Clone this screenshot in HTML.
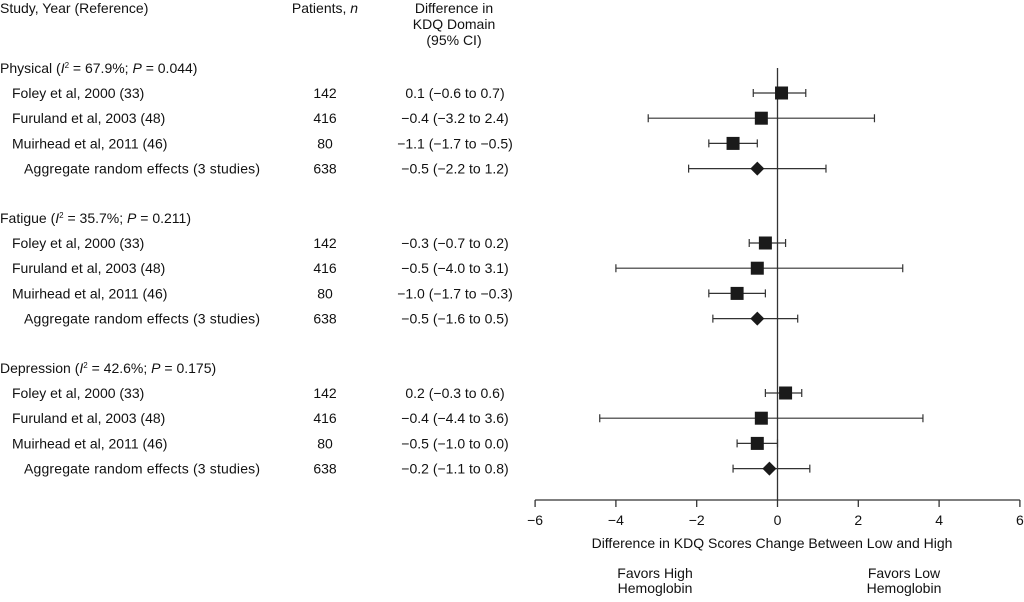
<!DOCTYPE html>
<html><head><meta charset="utf-8"><style>
body{margin:0;background:#fff;width:1024px;height:597px;overflow:hidden}
svg text{font-family:"Liberation Sans",sans-serif;fill:#111;font-size:14px}
</style></head><body>
<svg id="c" width="1024" height="597">
<g id="txt"></g><g id="marks"></g>
</svg>
<script>
const groups=["Physical","Fatigue","Depression"];
const groupStats=[["67.9%","0.044"],["35.7%","0.211"],["42.6%","0.175"]];
const studies=["Foley et al, 2000 (33)","Furuland et al, 2003 (48)","Muirhead et al, 2011 (46)","Aggregate random effects (3 studies)"];
const patients=[142,416,80,638];
const est=[[0.1,-0.4,-1.1,-0.5],[-0.3,-0.5,-1.0,-0.5],[0.2,-0.4,-0.5,-0.2]];
const lo=[[-0.6,-3.2,-1.7,-2.2],[-0.7,-4.0,-1.7,-1.6],[-0.3,-4.4,-1.0,-1.1]];
const hi=[[0.7,2.4,-0.5,1.2],[0.2,3.1,-0.3,0.5],[0.6,3.6,0.0,0.8]];
const ticks=[-6,-4,-2,0,2,4,6];
const NS="http://www.w3.org/2000/svg";
const svg=document.getElementById('c'),T=document.getElementById('txt'),M=document.getElementById('marks');
const x=v=>777.5+v*40.4;
function el(p,tag,a,t){const e=document.createElementNS(NS,tag);for(const k in a)e.setAttribute(k,a[k]);if(t!==undefined)e.innerHTML=t;p.appendChild(e);return e;}
function fmt(v){return (v<0?"\u2212":"")+Math.abs(v).toFixed(1);}
let h;
h=el(T,'text',{x:0,y:13});h.textContent="Study, Year (Reference)";


h=el(T,'text',{x:325,y:13,'text-anchor':'middle'},'Patients, <tspan font-style="italic">n</tspan>');


["Difference in","KDQ Domain","(95% CI)"].forEach((s,i)=>{h=el(T,'text',{x:454,y:13+i*16,'text-anchor':'middle'});h.textContent=s;

});
h=el(M,'line',{x1:x(0),x2:x(0),y1:68,y2:500,stroke:'#333','stroke-width':1.3});


groups.forEach((g,gi)=>{
 const gy=68+gi*150;
 h=el(T,'text',{x:0,y:gy+5},`${g} (<tspan font-style="italic">I</tspan><tspan font-size="8" dy="-5">2</tspan><tspan dy="5"> = ${groupStats[gi][0]}; </tspan><tspan font-style="italic">P</tspan> = ${groupStats[gi][1]})`);
 
 
 studies.forEach((s,si)=>{
  const y=gy+25+si*25.2;
  h=el(T,'text',{x:si==3?24:12,y:y+5});h.textContent=s;
  
  
  if(si==3)h.setAttribute('textLength','236');
  h=el(T,'text',{x:325,y:y+5,'text-anchor':'middle'});h.textContent=patients[si];
  
  
  h=el(T,'text',{x:455,y:y+5,'text-anchor':'middle'});h.textContent=`${fmt(est[gi][si])} (${fmt(lo[gi][si])} to ${fmt(hi[gi][si])})`;
  
  
  const l=x(lo[gi][si]),r=x(hi[gi][si]),c=x(est[gi][si]);
  h=el(M,'path',{d:`M${l},${y}H${r}M${l},${y-4}V${y+4}M${r},${y-4}V${y+4}`,stroke:'#333','stroke-width':1.2,fill:'none'});
  
  
  if(si==3){h=el(M,'path',{d:`M${c-7},${y}L${c},${y-7}L${c+7},${y}L${c},${y+7}Z`,fill:'#1a1a1a'});
   }
  else{h=el(M,'rect',{x:c-6.5,y:y-6.5,width:13,height:13,fill:'#1a1a1a'});
   }
  
 });
});
h=el(M,'line',{x1:x(-6),x2:x(6),y1:500,y2:500,stroke:'#333','stroke-width':1.3});


ticks.forEach(t=>{
 h=el(M,'line',{x1:x(t),x2:x(t),y1:500,y2:507,stroke:'#333','stroke-width':1.3});
 
 
 h=el(T,'text',{x:x(t),y:525,'text-anchor':'middle',fill:'#333'});h.textContent=fmt(t).replace('.0','');
 
 
});
h=el(T,'text',{x:772,y:548,'text-anchor':'middle'});h.textContent="Difference in KDQ Scores Change Between Low and High";


[["Favors High",655,578],["Hemoglobin",655,593],["Favors Low",904,578],["Hemoglobin",904,593]].forEach(a=>{
 h=el(T,'text',{x:a[1],y:a[2],'text-anchor':'middle'});h.textContent=a[0];
 
 
});
</script>
</body></html>
